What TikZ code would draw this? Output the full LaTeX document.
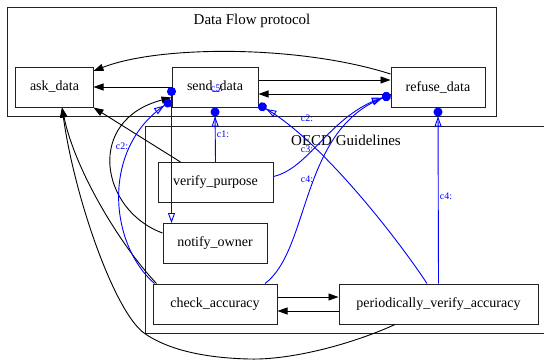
\documentclass[tikz,border=0pt]{standalone}
\usepackage{fontspec}
\setmainfont{Liberation Serif}
\usetikzlibrary{arrows.meta}
\definecolor{dfBlue}{HTML}{0000FF}
\definecolor{dfGray}{HTML}{222222}
\tikzset{
  flow/.style={-{Triangle[length=10bp,width=7bp]}, line width=0.9bp, draw=black},
  constraint/.style={-{Triangle[open,length=10bp,width=7bp] Circle[length=9bp]},
    line width=0.9bp, draw=dfBlue},
  back constraint/.style={{Circle[length=9bp]}-{Triangle[open,length=10bp,width=7bp]},
    line width=0.9bp, draw=dfBlue},
  task box/.style={draw=dfGray, line width=1bp, rectangle, minimum height=40bp,
    inner sep=0pt, font=\fontsize{14bp}{16bp}\selectfont},
  cluster/.style={draw=dfGray, line width=1bp},
  cluster label/.style={font=\fontsize{15bp}{17bp}\selectfont},
  tiny label/.style={font=\fontsize{10bp}{12bp}\selectfont, text=dfBlue, inner sep=0pt}
}
\begin{document}
\begin{tikzpicture}[x=1bp,y=-1bp]
  \useasboundingbox (0,0) rectangle (544,360);

  % clusters
  \draw[cluster] (7,7) rectangle (496,116);
  \node[cluster label] (dfp) at (252,21) {Data Flow protocol};
  \draw[cluster] (550,126) -- (145,126) -- (145,333) -- (550,333);
  \node[cluster label] (oecd) at (346,140) {OECD Guidelines};

  % tasks
  \node[task box, minimum width=77bp] (ask) at (54.5,87) {ask\_data};
  \node[task box, minimum width=86bp] (send) at (215,87) {send\_data};
  \node[task box, minimum width=94bp] (refuse) at (438,87) {refuse\_data};
  \node[task box, minimum width=115bp] (verify) at (215.5,182.5) {verify\_purpose};
  \node[task box, minimum width=104bp] (notify) at (215,243.5) {notify\_owner};
  \node[task box, minimum width=124bp] (check) at (215,304) {check\_accuracy};
  \node[task box, minimum width=199bp] (pva) at (438.5,304) {periodically\_verify\_accuracy};

  % flow edges
  \draw[flow] (send.west) -- (ask.east);
  \draw[flow] ([yshift=13bp]refuse.west) .. controls (300,45) and (160,45) .. ([yshift=16bp]ask.east);
  \draw[flow] ([yshift=7bp]send.east) -- ([yshift=7bp]refuse.west);
  \draw[flow] ([yshift=-7bp]refuse.west) -- ([yshift=-7bp]send.east);
  \draw[flow] ([xshift=23bp]verify.north west) -- (ask.south east);
  \draw[flow] ([yshift=10.5bp]notify.west) .. controls (100,210) and (85,120) .. ([yshift=10bp]send.south west);
  \draw[flow] ([xshift=4bp]check.north west) .. controls (120,245) and (75,170) .. ([xshift=7.5bp]ask.south);
  \draw[flow] ([xshift=-43.5bp]pva.south) .. controls (350,345) and (290,360) .. (250,359)
    .. controls (200,358) and (165,348) .. (144,333)
    .. controls (115,312) and (75,200) .. ([xshift=7.5bp]ask.south);
  \draw[flow] ([yshift=7bp]check.east) -- ([yshift=7bp]pva.west);
  \draw[flow] ([yshift=-7bp]pva.west) -- ([yshift=-7bp]check.east);

  % constraints
  \draw[constraint] (verify.north) -- (send.south);
  \draw[back constraint] (send.west) -- (send.west |- notify.north);
  \draw[constraint] ([xshift=2bp]check.north west) .. controls (110,245) and (100,150) .. ([yshift=7bp]send.south west);
  \draw[constraint] ([xshift=-11.5bp]pva.north) .. controls (395,235) and (320,140) .. ([yshift=3bp]send.south east);
  \draw[constraint] ([yshift=6bp]verify.east) .. controls (310,168) and (330,115) .. ([yshift=-8bp]refuse.west);
  \draw[constraint] ([xshift=50bp]check.north) .. controls (310,250) and (300,130) .. ([yshift=-8bp]refuse.west);
  \draw[constraint] (pva.north) -- (refuse.south);

  \node[tiny label] (lc1) at (223,134) {c1:};
  \node[tiny label] (lc2a) at (122,146) {c2:};
  \node[tiny label] (lc2b) at (307,118) {c2:};
  \node[tiny label] (lc3) at (307,149) {c3:};
  \node[tiny label] (lc4a) at (307,179) {c4:};
  \node[tiny label] (lc4b) at (446,196) {c4:};
  \node[tiny label] (lc5) at (217,88) {c5:};
\end{tikzpicture}
\end{document}
